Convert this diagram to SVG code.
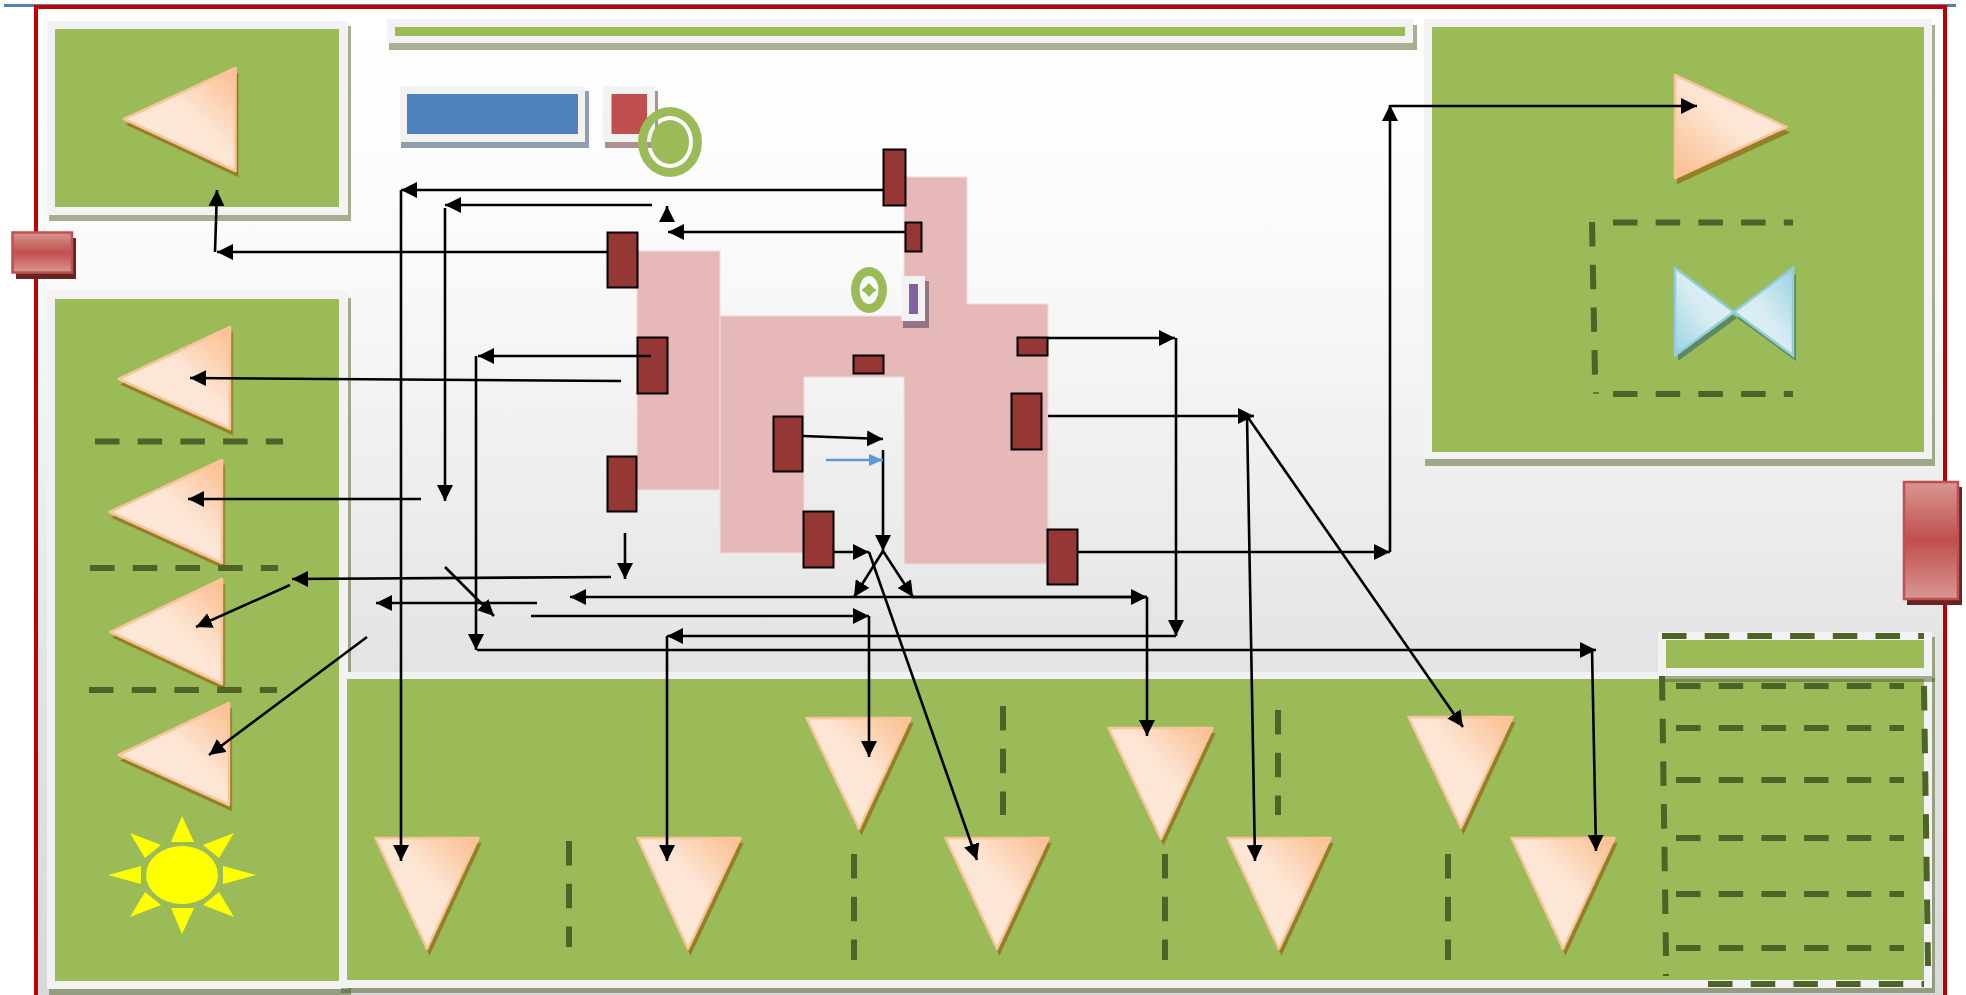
<svg xmlns="http://www.w3.org/2000/svg" width="1966" height="995" viewBox="0 0 1966 995">
<style>
.out{fill:#f2f2f2}
.grn{fill:#9bbb59}
.sh{fill:#4f6228;fill-opacity:.5}
.tri{fill:url(#ta);stroke:#fbc399;stroke-width:2.5;stroke-linejoin:round}
.trb{fill:url(#tb);stroke:#fbc399;stroke-width:2.5;stroke-linejoin:round}
.tsh{fill:#8f5a08;fill-opacity:.6;stroke:#8f5a08;stroke-opacity:.3;stroke-width:1.500;transform:translate(2.500px,5.500px)}
.dsh{fill:none;stroke:#4f6228;stroke-width:6;stroke-dasharray:24.5 18.2}
.pink{fill:#e6b8b7;stroke:#f2dcdb;stroke-width:1}
.dr{fill:#953735;stroke:#000;stroke-width:2}
.sun{fill:#ff0}
.btn{fill:url(#bg);stroke:#c0504d;stroke-width:2.5}
.bsh{fill:#652523}
#connectors line{stroke:#000;stroke-width:2.6;fill:none}
#connectors line.a{marker-end:url(#ah)}
#connectors line.b{stroke:#5b9bd5;marker-end:url(#ahb)}
</style>
<defs>
<linearGradient id="page" x1="0" y1="0" x2="0" y2="1">
<stop offset="0" stop-color="#fff"/><stop offset=".25" stop-color="#fafafa"/><stop offset=".47" stop-color="#eee"/><stop offset=".67" stop-color="#e3e3e3"/><stop offset="1" stop-color="#d8d8d8"/>
</linearGradient>
<linearGradient id="ta" x1="1" y1="0" x2="0" y2="1">
<stop offset="0" stop-color="#fbbd8c"/><stop offset=".42" stop-color="#fde5d4"/><stop offset="1" stop-color="#fdeadb"/>
</linearGradient>
<linearGradient id="tb" x1="0" y1="1" x2="1" y2="0">
<stop offset="0" stop-color="#fbbd8c"/><stop offset=".5" stop-color="#fde5d4"/><stop offset="1" stop-color="#fdeadb"/>
</linearGradient>
<linearGradient id="bl" x1="0" y1="1" x2="1" y2="0">
<stop offset="0" stop-color="#9ad2e2"/><stop offset=".5" stop-color="#d8edf3"/><stop offset="1" stop-color="#deeff5"/>
</linearGradient>
<linearGradient id="br" x1="1" y1="0" x2="0" y2="1">
<stop offset="0" stop-color="#9ad2e2"/><stop offset=".5" stop-color="#d8edf3"/><stop offset="1" stop-color="#deeff5"/>
</linearGradient>
<linearGradient id="bg" x1="0" y1="0" x2="0" y2="1">
<stop offset="0" stop-color="#d99694"/><stop offset=".5" stop-color="#c0504d"/><stop offset="1" stop-color="#d99694"/>
</linearGradient>
<marker id="ah" markerUnits="userSpaceOnUse" markerWidth="16" markerHeight="16" refX="16" refY="8" orient="auto"><path d="M0 0L16 8L0 16z" fill="#000"/></marker>
<marker id="ahb" markerUnits="userSpaceOnUse" markerWidth="14" markerHeight="14" refX="14" refY="7" orient="auto"><path d="M0 1L14 7L0 13z" fill="#5b9bd5"/></marker>
</defs>
<rect x="0" y="0" width="1966" height="995" fill="#fff"/>
<rect id="topline" x="4" y="4" width="1952" height="3" fill="#4f81bd"/>
<rect id="page-frame" x="36" y="7" width="1909" height="1000" fill="url(#page)" stroke="#c00000" stroke-width="4"/>

<g id="panel-top-left">
<rect class="sh" x="49" y="26" width="302" height="195"/><rect class="out" x="47" y="21" width="301" height="194"/><rect class="grn" x="55" y="29" width="284" height="178"/>
</g>
<g id="panel-left">
<rect class="sh" x="49" y="298" width="302" height="697"/><rect class="out" x="47" y="291" width="301" height="698"/><rect class="grn" x="55" y="299" width="284" height="682"/>
</g>
<g id="panel-bottom">
<rect class="sh" x="341" y="678" width="1594" height="315"/><rect class="out" x="339" y="672" width="1593" height="316"/><rect class="grn" x="347" y="679" width="1577" height="301"/>
</g>
<g id="panel-top-bar">
<rect class="sh" x="389" y="25" width="1028" height="25"/><rect class="out" x="387" y="19" width="1026" height="24"/><rect class="grn" x="395" y="27" width="1010" height="9"/>
</g>
<g id="panel-top-right">
<rect class="sh" x="1425" y="25" width="510" height="441"/><rect class="out" x="1424" y="19" width="508" height="440"/><rect class="grn" x="1432" y="27" width="492" height="425"/>
</g>
<g id="panel-small">
<rect class="sh" x="1660" y="637" width="275" height="45"/><rect class="out" x="1658" y="632" width="274" height="44"/><rect class="grn" x="1666" y="640" width="258" height="28"/>
</g>

<g id="blue-box">
<rect x="401" y="91" width="188" height="57" fill="#244061" fill-opacity=".5"/><rect class="out" x="400" y="86" width="185" height="56"/><rect x="407" y="94" width="171" height="40" fill="#4f81bd"/>
</g>
<g id="red-box">
<rect x="605" y="91" width="53" height="57" fill="#632423" fill-opacity=".5"/><rect class="out" x="603" y="86" width="52" height="56"/><rect x="611.500" y="94" width="35.500" height="40" fill="#c0504d"/>
</g>
<g id="donut-large">
<path class="grn" fill-rule="evenodd" d="M638 142a32 35 0 1 0 64 0a32 35 0 1 0-64 0zM647 142a23 26 0 1 0 46 0a23 26 0 1 0-46 0z"/><ellipse class="grn" cx="670" cy="142" rx="19" ry="22"/>
</g>

<g id="pink-area">
<rect class="pink" x="637" y="251" width="83" height="239"/>
<path class="pink" d="M720 316H904V177H967V304H1048V564H904V377H804V553H720z"/>
</g>

<g id="donut-small">
<path class="grn" fill-rule="evenodd" d="M851 290a18 23 0 1 0 36 0a18 23 0 1 0-36 0zM859.500 290a9.500 14 0 1 0 19 0a9.500 14 0 1 0-19 0z"/><path class="grn" d="M869 283Q872 287 876.500 290Q872 293 869 297Q866 293 861.500 290Q866 287 869 283z"/>
</g>
<g id="purple-box">
<rect x="903" y="281" width="26" height="47" fill="#3f3151" fill-opacity=".5"/><rect class="out" x="901.500" y="276" width="23.500" height="45"/><rect x="909" y="284" width="9" height="30" fill="#8064a2"/>
</g>

<g id="port-1"><rect class="dr" x="883.500" y="149.500" width="22" height="56"/></g>
<g id="port-2"><rect class="dr" x="905.500" y="222.500" width="16" height="29"/></g>
<g id="port-3"><rect class="dr" x="607.500" y="232.500" width="30" height="55"/></g>
<g id="port-4"><rect class="dr" x="637.500" y="337.500" width="30" height="56"/></g>
<g id="port-5"><rect class="dr" x="853.500" y="355.500" width="30" height="18"/></g>
<g id="port-6"><rect class="dr" x="1017.500" y="337.500" width="30" height="18"/></g>
<g id="port-7"><rect class="dr" x="1011.500" y="393.500" width="30" height="56"/></g>
<g id="port-8"><rect class="dr" x="773.500" y="416.500" width="29" height="55"/></g>
<g id="port-9"><rect class="dr" x="607.500" y="456.500" width="29" height="55"/></g>
<g id="port-10"><rect class="dr" x="803.500" y="511.500" width="30" height="56"/></g>
<g id="port-11"><rect class="dr" x="1047.500" y="529.500" width="30" height="55"/></g>

<g id="tri-top-left"><polygon class="tsh" points="124,119 235.500,68 235.500,171"/><polygon class="tri" points="124,119 235.500,68 235.500,171"/></g>
<g id="tri-left-1"><polygon class="tsh" points="118.500,379 230,327 230,429"/><polygon class="tri" points="118.500,379 230,327 230,429"/></g>
<g id="tri-left-2"><polygon class="tsh" points="109.500,512 222,460 222,563"/><polygon class="tri" points="109.500,512 222,460 222,563"/></g>
<g id="tri-left-3"><polygon class="tsh" points="110.500,632 222,579 222,684"/><polygon class="tri" points="110.500,632 222,579 222,684"/></g>
<g id="tri-left-4"><polygon class="tsh" points="118.500,755 229,703 229,805"/><polygon class="tri" points="118.500,755 229,703 229,805"/></g>
<g id="tri-right"><polygon class="tsh" points="1675,75 1786.500,127 1675,178"/><polygon class="trb" points="1675,75 1786.500,127 1675,178"/></g>
<g id="tri-down-1"><polygon class="tsh" points="375.500,838 478.500,838 427,949"/><polygon class="tri" points="375.500,838 478.500,838 427,949"/></g>
<g id="tri-down-2"><polygon class="tsh" points="637.500,838 740.500,838 688,949"/><polygon class="tri" points="637.500,838 740.500,838 688,949"/></g>
<g id="tri-down-3"><polygon class="tsh" points="945.500,838 1048.500,838 997,949"/><polygon class="tri" points="945.500,838 1048.500,838 997,949"/></g>
<g id="tri-down-4"><polygon class="tsh" points="1227.500,838 1330.500,838 1279,949"/><polygon class="tri" points="1227.500,838 1330.500,838 1279,949"/></g>
<g id="tri-down-5"><polygon class="tsh" points="1511.500,838 1614.500,838 1563,949"/><polygon class="tri" points="1511.500,838 1614.500,838 1563,949"/></g>
<g id="tri-up-1"><polygon class="tsh" points="806.500,718 910.500,718 859,829"/><polygon class="tri" points="806.500,718 910.500,718 859,829"/></g>
<g id="tri-up-2"><polygon class="tsh" points="1108.500,728 1212.500,728 1161,839"/><polygon class="tri" points="1108.500,728 1212.500,728 1161,839"/></g>
<g id="tri-up-3"><polygon class="tsh" points="1408.500,717 1512.500,717 1461,828"/><polygon class="tri" points="1408.500,717 1512.500,717 1461,828"/></g>

<g id="bowtie">
<path d="M1678 274L1737 318L1678 361zM1796 274L1737 318L1796 361z" fill="#205867" fill-opacity=".5"/>
<polygon points="1675,268 1734,312 1675,355.500" fill="url(#bl)" stroke="#92cddc" stroke-width="2.500"/>
<polygon points="1793,268 1734,312 1793,355.500" fill="url(#br)" stroke="#92cddc" stroke-width="2.500"/>
</g>

<g id="sun">
<ellipse class="sun" cx="182" cy="875" rx="36" ry="29"/>
<polygon class="sun" points="182,816 171,842 194,842"/>
<polygon class="sun" points="182,934 171,908 194,908"/>
<polygon class="sun" points="108,875 141,866 141,884"/>
<polygon class="sun" points="256,875 223,866 223,884"/>
<polygon class="sun" points="130,833 161,845 145,858"/>
<polygon class="sun" points="234,833 203,845 219,858"/>
<polygon class="sun" points="130,917 161,905 145,892"/>
<polygon class="sun" points="234,917 203,905 219,892"/>
</g>

<g id="dashes">
<path class="dsh" d="M95 441.500H283M90 568H278M89 690H277"/>
<path class="dsh" d="M569 841V947M854 854V960M1003 706V815M1165 854V960M1278 710V815M1448 854V960"/>
<path class="dsh" d="M1613 222.500H1793M1613 394H1793M1592 222L1595 376"/>
<path d="M1593 393H1599" stroke="#4f6228" stroke-width="1.500"/>
<path class="dsh" d="M1662 636H1924M1676 686H1904M1676 728H1904M1676 780H1904M1676 838H1904M1676 894H1904M1676 948H1904M1708 984H1924"/>
<path class="dsh" d="M1662 676L1666 956M1924 686L1928 966"/>
<path d="M1663 975H1669" stroke="#4f6228" stroke-width="2"/>
</g>

<g id="connectors">
<line class="a" x1="883" y1="190" x2="401" y2="190"/>
<line class="a" x1="401" y1="190" x2="401" y2="861"/>
<line class="a" x1="652" y1="205" x2="445" y2="205"/>
<line class="a" x1="445" y1="208" x2="445" y2="501"/>
<line class="a" x1="667" y1="222" x2="667" y2="206"/>
<line class="a" x1="905" y1="232" x2="668" y2="232"/>
<line class="a" x1="607" y1="252" x2="217" y2="252"/>
<line class="a" x1="215" y1="252" x2="217" y2="190"/>
<line class="a" x1="651" y1="356" x2="478" y2="356"/>
<line class="a" x1="476" y1="356" x2="476" y2="650"/>
<line class="a" x1="621" y1="381" x2="190" y2="378"/>
<line class="a" x1="421" y1="499" x2="188" y2="499"/>
<line class="a" x1="625" y1="533" x2="625" y2="579"/>
<line class="a" x1="611" y1="577" x2="292" y2="579"/>
<line class="a" x1="290" y1="585" x2="196" y2="627"/>
<line class="a" x1="445" y1="567" x2="494" y2="616"/>
<line class="a" x1="537" y1="603" x2="376" y2="603"/>
<line class="a" x1="367" y1="637" x2="209" y2="755"/>
<line class="a" x1="531" y1="616" x2="869" y2="616"/>
<line class="a" x1="869" y1="616" x2="869" y2="757"/>
<line class="a" x1="1176" y1="636" x2="667" y2="636"/>
<line class="a" x1="667" y1="636" x2="667" y2="861"/>
<line class="a" x1="477" y1="650" x2="1596" y2="650"/>
<line class="a" x1="1592" y1="650" x2="1596" y2="851"/>
<line class="a" x1="1147" y1="597" x2="570" y2="597"/>
<line class="a" x1="912" y1="597" x2="1147" y2="597"/>
<line class="a" x1="1147" y1="597" x2="1147" y2="736"/>
<line class="a" x1="834" y1="552" x2="869" y2="552"/>
<line class="a" x1="869" y1="552" x2="977" y2="860"/>
<line class="a" x1="883" y1="450" x2="883" y2="551"/>
<line class="a" x1="883" y1="551" x2="854" y2="597"/>
<line class="a" x1="883" y1="551" x2="913" y2="597"/>
<line class="a" x1="803" y1="436" x2="883" y2="439"/>
<line class="b" x1="826" y1="460" x2="883" y2="460"/>
<line class="a" x1="1048" y1="416" x2="1254" y2="416"/>
<line class="a" x1="1048" y1="338" x2="1175" y2="338"/>
<line class="a" x1="1176" y1="338" x2="1176" y2="636"/>
<line class="a" x1="1078" y1="552" x2="1390" y2="552"/>
<line class="a" x1="1390" y1="552" x2="1390" y2="105"/>
<line class="a" x1="1390" y1="106" x2="1697" y2="106"/>
<line class="a" x1="1247" y1="416" x2="1255" y2="861"/>
<line class="a" x1="1247" y1="416" x2="1463" y2="727"/>
</g>

<g id="button-left">
<rect class="bsh" x="16" y="238" width="60" height="41"/><rect class="btn" x="12.500" y="232.500" width="59.500" height="40"/>
</g>
<g id="button-right">
<rect class="bsh" x="1907" y="487" width="55" height="118"/><rect class="btn" x="1904" y="482" width="54" height="117"/>
</g>
</svg>
